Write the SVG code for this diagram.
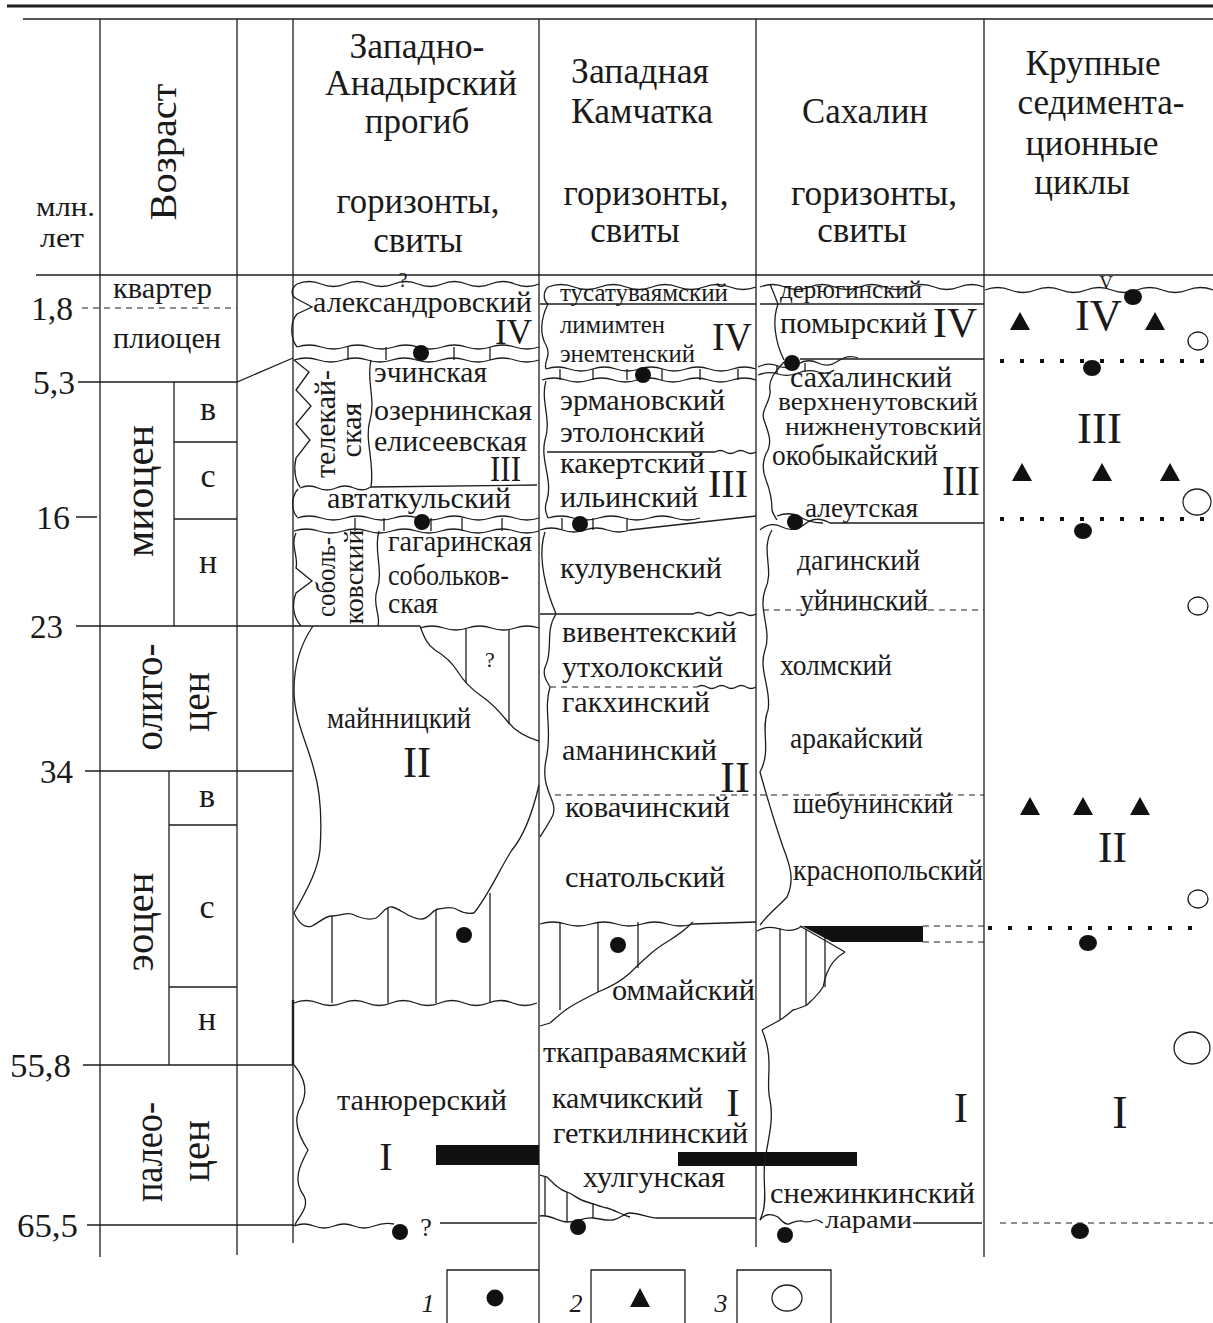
<svg xmlns="http://www.w3.org/2000/svg" width="1213" height="1323" viewBox="0 0 1213 1323">
<style>
.ln{fill:none;stroke:#1e1e1e;stroke-width:1.3}
.ds{fill:none;stroke:#1e1e1e;stroke-width:1.2;stroke-dasharray:6 5}
.dt{fill:none;stroke:#111;stroke-width:4;stroke-dasharray:4 16}
.t{font-family:"Liberation Serif","Times New Roman",serif;fill:#1a1a1a}
.c{text-anchor:middle}
.dot{fill:#111}
.ring{fill:none;stroke:#1e1e1e;stroke-width:1.3}
.s30{font-size:30px}
.s35{font-size:35px}
</style>
<rect width="1213" height="1323" fill="#fff"/>

<g id="grid" class="ln">
<line x1="7" y1="6" x2="1213" y2="6" stroke-width="3"/>
<line x1="23" y1="19" x2="1213" y2="19"/>
<line x1="36" y1="275" x2="1213" y2="275"/>
<line x1="100" y1="19" x2="100" y2="1257"/>
<line x1="237" y1="19" x2="237" y2="1255"/>
<line x1="293" y1="19" x2="293" y2="1243"/>
<line x1="539" y1="19" x2="539" y2="1323"/>
<line x1="756" y1="19" x2="756" y2="1247"/>
<line x1="984" y1="19" x2="984" y2="1257"/>
<line x1="293" y1="1000" x2="293" y2="1065" stroke-width="2.4"/>
</g>

<g id="header">
<text class="t" x="36" y="216" font-size="28" textLength="59" lengthAdjust="spacingAndGlyphs">млн.</text>
<text class="t" x="40" y="247" font-size="28" textLength="44" lengthAdjust="spacingAndGlyphs">лет</text>
<text class="t c" transform="translate(176,152) rotate(-90)" font-size="38" textLength="137" lengthAdjust="spacingAndGlyphs">Возраст</text>
<g class="t c s35">
<text x="417" y="58" textLength="135" lengthAdjust="spacingAndGlyphs">Западно-</text>
<text x="421" y="95" textLength="192" lengthAdjust="spacingAndGlyphs">Анадырский</text>
<text x="417" y="133">прогиб</text>
<text x="418" y="213" textLength="163" lengthAdjust="spacingAndGlyphs">горизонты,</text>
<text x="418" y="252">свиты</text>
<text x="640" y="83" textLength="138" lengthAdjust="spacingAndGlyphs">Западная</text>
<text x="642" y="123" textLength="142" lengthAdjust="spacingAndGlyphs">Камчатка</text>
<text x="646" y="205" textLength="165" lengthAdjust="spacingAndGlyphs">горизонты,</text>
<text x="635" y="242">свиты</text>
<text x="865" y="123" textLength="126" lengthAdjust="spacingAndGlyphs">Сахалин</text>
<text x="874" y="205" textLength="166" lengthAdjust="spacingAndGlyphs">горизонты,</text>
<text x="862" y="242">свиты</text>
<text x="1093" y="75" textLength="135" lengthAdjust="spacingAndGlyphs">Крупные</text>
<text x="1101" y="114" textLength="167" lengthAdjust="spacingAndGlyphs">седимента-</text>
<text x="1092" y="155" textLength="133" lengthAdjust="spacingAndGlyphs">ционные</text>
<text x="1082" y="194">циклы</text>
</g>
</g>

<g id="age-scale">
<line class="ds" x1="82" y1="308" x2="237" y2="308"/>
<path class="ln" d="M78,382 H237 L293,358 M174,382 V626 M174,442 H237 M174,519 H237 M76,517 H97 M76,626 H420 M85,771 H293 M169,771 V1065 M169,825 H237 M169,987 H237 M83,1065 H293 M87,1225 H294"/>
<g class="t" font-size="34">
<text x="31" y="320" textLength="42" lengthAdjust="spacingAndGlyphs">1,8</text>
<text x="33" y="394" textLength="42" lengthAdjust="spacingAndGlyphs">5,3</text>
<text x="36" y="529" textLength="34" lengthAdjust="spacingAndGlyphs">16</text>
<text x="30" y="638" textLength="33" lengthAdjust="spacingAndGlyphs">23</text>
<text x="40" y="783" textLength="33" lengthAdjust="spacingAndGlyphs">34</text>
<text x="10" y="1077" textLength="61" lengthAdjust="spacingAndGlyphs">55,8</text>
<text x="17" y="1237" textLength="61" lengthAdjust="spacingAndGlyphs">65,5</text>
</g>
<g class="t" font-size="29">
<text x="113" y="298" textLength="99" lengthAdjust="spacingAndGlyphs">квартер</text>
<text x="113" y="348" textLength="108" lengthAdjust="spacingAndGlyphs">плиоцен</text>
</g>
<g class="t c" font-size="34">
<text x="208" y="420">в</text>
<text x="208" y="487">с</text>
<text x="208" y="573">н</text>
<text x="207" y="807">в</text>
<text x="207" y="918">с</text>
<text x="207" y="1030">н</text>
</g>
<g class="t c" font-size="40">
<text transform="translate(153,491) rotate(-90)" font-size="42" textLength="132" lengthAdjust="spacingAndGlyphs">миоцен</text>
<text transform="translate(162,697) rotate(-90)" textLength="107" lengthAdjust="spacingAndGlyphs">олиго-</text>
<text transform="translate(209,702) rotate(-90)" textLength="60" lengthAdjust="spacingAndGlyphs">цен</text>
<text transform="translate(153,922) rotate(-90)" textLength="99" lengthAdjust="spacingAndGlyphs">эоцен</text>
<text transform="translate(162,1152) rotate(-90)" textLength="100" lengthAdjust="spacingAndGlyphs">палео-</text>
<text transform="translate(209,1151) rotate(-90)" textLength="62" lengthAdjust="spacingAndGlyphs">цен</text>
</g>
</g>

<g id="col-anadyr">
<g class="ln">
<path d="M297,284 q12.1,-5 24.2,0 t24.2,0 t24.2,0 t24.2,0 t24.2,0 t24.2,0 t24.2,0 t24.2,0 t24.2,0 t24.2,0"/>
<path d="M297,284 C290,289 291,296 297,299 L312,307 L297,314 C290,322 290,338 297,347"/>
<path d="M297,347 q12.1,-4 24.2,0 t24.2,0 t24.2,0 t24.2,0 t24.2,0 t24.2,0 t24.2,0 t24.2,0 t24.2,0 t24.2,0"/>
<path d="M294,360 q12.25,-4 24.5,0 t24.5,0 t24.5,0 t24.5,0 t24.5,0 t24.5,0 t24.5,0 t24.5,0 t24.5,0 t24.5,0"/>
<path d="M348,347 V360 M386,347 V360 M454,347 V360 M490,347 V360"/>
<path d="M294,360 L309,372 L296,390 L311,406 L296,424 L310,440 L296,458 C293,470 296,482 300,487"/>
<path d="M371,360 C366,380 376,400 370,420 C364,440 375,462 371,487"/>
<path d="M300,488 q9,-4 18,0 t18,0 t18,0 t17,-1 L537,485"/>
<path d="M298,489 C291,497 291,510 297,517"/>
<path d="M297,518 q12.1,-4 24.2,0 t24.2,0 t24.2,0 t24.2,0 t24.2,0 t24.2,0 t24.2,0 t24.2,0 t24.2,0 t24.2,0"/>
<path d="M294,531 q12.25,-4 24.5,0 t24.5,0 t24.5,0 t24.5,0 t24.5,0 t24.5,0 t24.5,0 t24.5,0 t24.5,0 t24.5,0"/>
<path d="M355,518 V531 M384,518 V531 M431,518 V531 M462,518 V531 M502,518 V531"/>
<path d="M296,533 C290,545 299,558 296,568 L312,581 L296,593 C291,606 294,618 301,626"/>
<path d="M379,531 C373,550 384,570 377,590 C372,605 381,615 378,626"/>
<path d="M420,628 q11.9,-4 23.8,0 t23.8,0 t23.8,0 t23.8,0 t23.8,0"/>
<path d="M420,626 C425,640 428,645 435,650 C445,656 452,662 458,672 C463,680 470,688 480,695 C492,703 500,712 508,722 C515,731 525,737 539,741"/>
<path d="M466,628 V683 M509,630 V724"/>
<path d="M313,626 C300,645 294,665 294,690 C294,720 308,745 314,770 C320,790 322,820 320,850 C318,868 310,885 294,913"/>
<path d="M539,785 C532,815 522,838 512,850 C500,868 490,893 474,913"/>
<path d="M294,913 C300,925 305,928 312,926 C320,922 325,916 332,916 C340,916 346,912 352,914 C360,918 368,921 376,918 C382,915 385,906 392,907 C400,908 410,920 422,919 C430,918 432,910 438,909 C445,908 452,906 458,910 C463,913 468,914 474,913"/>
<path d="M332,916 V1003 M388,908 V1003 M436,910 V1003 M490,893 V1003"/>
<path d="M294,1003 q12.15,-5 24.3,0 t24.3,0 t24.3,0 t24.3,0 t24.3,0 t24.3,0 t24.3,0 t24.3,0 t24.3,0 t24.3,0"/>
<path d="M294,1065 C305,1078 309,1092 300,1108 C292,1122 300,1138 308,1150 C300,1165 292,1180 304,1196 C310,1208 297,1218 295,1225"/>
<path d="M294,1226 q10,-4 20,0 t20,0 t20,0 t20,0 t20,-2"/>
<path d="M440,1223 H537"/>
</g>
<rect x="436" y="1145" width="103" height="20" fill="#111"/>
<circle class="dot" cx="421" cy="353" r="8"/>
<circle class="dot" cx="422" cy="522" r="8"/>
<circle class="dot" cx="464" cy="935" r="8"/>
<circle class="dot" cx="400" cy="1232" r="8"/>
<g class="t s30">
<text class="c" x="403" y="287" font-size="20">?</text>
<text x="313" y="312" textLength="219" lengthAdjust="spacingAndGlyphs">александровский</text>
<text x="495" y="344" font-size="36" textLength="37" lengthAdjust="spacingAndGlyphs">IV</text>
<text transform="translate(335,424) rotate(-90)" class="c" textLength="108" lengthAdjust="spacingAndGlyphs">телекай-</text>
<text transform="translate(361,430) rotate(-90)" class="c" textLength="55" lengthAdjust="spacingAndGlyphs">ская</text>
<text x="374" y="382" textLength="113" lengthAdjust="spacingAndGlyphs">эчинская</text>
<text x="374" y="420" textLength="158" lengthAdjust="spacingAndGlyphs">озернинская</text>
<text x="374" y="451" textLength="153" lengthAdjust="spacingAndGlyphs">елисеевская</text>
<text x="490" y="481" font-size="36" textLength="31" lengthAdjust="spacingAndGlyphs">III</text>
<text x="327" y="508" textLength="184" lengthAdjust="spacingAndGlyphs">автаткульский</text>
<text transform="translate(335,577) rotate(-90)" class="c" font-size="27" textLength="80" lengthAdjust="spacingAndGlyphs">соболь-</text>
<text transform="translate(363,577) rotate(-90)" class="c" font-size="27" textLength="95" lengthAdjust="spacingAndGlyphs">ковский</text>
<text x="388" y="551" textLength="144" lengthAdjust="spacingAndGlyphs">гагаринская</text>
<text x="388" y="585" textLength="121" lengthAdjust="spacingAndGlyphs">собольков-</text>
<text x="388" y="613" textLength="50" lengthAdjust="spacingAndGlyphs">ская</text>
<text class="c" x="490" y="667" font-size="22">?</text>
<text x="327" y="728" textLength="144" lengthAdjust="spacingAndGlyphs">майнницкий</text>
<text x="403" y="777" font-size="44" textLength="28" lengthAdjust="spacingAndGlyphs">II</text>
<text x="337" y="1110" textLength="170" lengthAdjust="spacingAndGlyphs">танюрерский</text>
<text class="c" x="386" y="1170" font-size="40">I</text>
<text class="c" x="426" y="1236" font-size="26">?</text>
</g>
</g>

<g id="col-kamchatka">
<g class="ln">
<path d="M548,287 q13,-5 26,0 t26,0 t26,0 t26,0 t26,0 t26,0 t26,0 t26,0"/>
<path d="M548,287 C543,292 543,300 548,304"/>
<path d="M540,304 H756"/>
<path d="M548,304 C540,320 540,335 546,345 C552,356 543,362 546,369"/>
<path d="M546,369 q11.67,-4 23.33,0 t23.33,0 t23.33,0 t23.33,0 t23.33,0 t23.33,0 t23.33,0 t23.33,0 t23.33,0"/>
<path d="M542,380 q11.9,-4 23.8,0 t23.8,0 t23.8,0 t23.8,0 t23.8,0 t23.8,0 t23.8,0 t23.8,0 t23.8,0"/>
<path d="M560,369 V380 M593,369 V380 M627,369 V380 M662,369 V380 M700,369 V380 M738,369 V380"/>
<path d="M546,381 C540,400 552,420 545,440 C540,460 553,480 547,500 C543,510 547,515 548,518"/>
<path d="M547,452 H715 q5.125,-3 10.25,0 t10.25,0 t10.25,0 t10.25,0"/>
<path d="M548,518 q12.67,-4 25.33,0 t25.33,0 t25.33,0 t25.33,0 t25.33,0 t25.33,0"/>
<path d="M540,530 q11.25,-4 22.5,0 t22.5,0 t22.5,0 t22.5,0 L756,516"/>
<path d="M562,518 V530 M593,518 V530 M627,518 V530"/>
<path d="M545,532 C538,552 544,580 550,598 C553,607 555,611 556,614"/>
<path d="M540,614 H693 q5.25,-3 10.5,0 t10.5,0 t10.5,0 t10.5,0 t10.5,0 t10.5,0"/>
<path d="M556,614 C545,630 553,650 546,665 C541,675 548,683 550,687"/>
<path d="M697,687 q4.92,-3 9.83,0 t9.83,0 t9.83,0 t9.83,0 t9.83,0 t9.83,0"/>
<path d="M550,687 C543,710 553,730 546,760 C540,790 558,800 553,815 C548,825 543,832 540,837"/>
<path d="M540,924 q12.75,-4 25.5,0 t25.5,0 t25.5,0 t25.5,0 t25.5,0 t25.5,0 L756,922"/>
<path d="M693,922 C685,930 678,935 670,940 C660,946 652,952 647,957 C640,963 635,968 630,973 C620,982 608,988 598,992 C588,997 578,1002 570,1007 C562,1012 556,1018 550,1023 L540,1026"/>
<path d="M560,923 V1010 M598,922 V992 M638,922 V968"/>
<path d="M540,1175 L547,1177 C555,1185 560,1190 567,1192 C575,1195 578,1200 587,1202 C595,1204 600,1207 607,1208 C615,1210 622,1215 630,1217"/>
<path d="M540,1216 C550,1214 558,1222 567,1222 C578,1222 583,1217 593,1218 C602,1219 606,1221 613,1220 C620,1219 624,1213 630,1213 C640,1213 648,1218 657,1218 L756,1218"/>
<path d="M545,1177 V1216 M567,1192 V1222 M593,1203 V1218"/>
</g>
<path class="ds" d="M550,687 H697 M555,795 H756 M760,795 H984"/>
<rect x="678" y="1152" width="179" height="14" fill="#111"/>
<circle class="dot" cx="643" cy="375" r="8"/>
<circle class="dot" cx="580" cy="524" r="8"/>
<circle class="dot" cx="618" cy="945" r="8"/>
<circle class="dot" cx="578" cy="1227" r="8"/>
<g class="t s30">
<text x="560" y="301" font-size="25" textLength="168" lengthAdjust="spacingAndGlyphs">тусатуваямский</text>
<text x="560" y="333" font-size="25" textLength="105" lengthAdjust="spacingAndGlyphs">лимимтен</text>
<text x="560" y="362" font-size="25" textLength="135" lengthAdjust="spacingAndGlyphs">энемтенский</text>
<text x="712" y="350" font-size="41" textLength="40" lengthAdjust="spacingAndGlyphs">IV</text>
<text x="560" y="410" textLength="165" lengthAdjust="spacingAndGlyphs">эрмановский</text>
<text x="560" y="442" textLength="145" lengthAdjust="spacingAndGlyphs">этолонский</text>
<text x="560" y="473" textLength="145" lengthAdjust="spacingAndGlyphs">какертский</text>
<text x="708" y="497" font-size="41" textLength="40" lengthAdjust="spacingAndGlyphs">III</text>
<text x="560" y="507" textLength="138" lengthAdjust="spacingAndGlyphs">ильинский</text>
<text x="560" y="578" textLength="162" lengthAdjust="spacingAndGlyphs">кулувенский</text>
<text x="562" y="642" textLength="175" lengthAdjust="spacingAndGlyphs">вивентекский</text>
<text x="562" y="677" textLength="161" lengthAdjust="spacingAndGlyphs">утхолокский</text>
<text x="562" y="712" textLength="148" lengthAdjust="spacingAndGlyphs">гакхинский</text>
<text x="562" y="760" textLength="155" lengthAdjust="spacingAndGlyphs">аманинский</text>
<text x="720" y="792" font-size="44" textLength="30" lengthAdjust="spacingAndGlyphs">II</text>
<text x="565" y="817" textLength="165" lengthAdjust="spacingAndGlyphs">ковачинский</text>
<text x="565" y="887" textLength="160" lengthAdjust="spacingAndGlyphs">снатольский</text>
<text x="612" y="1000" textLength="143" lengthAdjust="spacingAndGlyphs">оммайский</text>
<text x="543" y="1062" textLength="204" lengthAdjust="spacingAndGlyphs">ткаправаямский</text>
<text x="552" y="1108" textLength="151" lengthAdjust="spacingAndGlyphs">камчикский</text>
<text class="c" x="733" y="1116" font-size="40">I</text>
<text x="553" y="1143" textLength="195" lengthAdjust="spacingAndGlyphs">геткилнинский</text>
<text x="583" y="1187" textLength="142" lengthAdjust="spacingAndGlyphs">хулгунская</text>
</g>
</g>

<g id="col-sakhalin">
<g class="ln">
<path d="M760,287 q12.44,-5 24.89,0 t24.89,0 t24.89,0 t24.89,0 t24.89,0 t24.89,0 t24.89,0 t24.89,0 t24.89,0"/>
<path d="M770,284 L778,304 C772,320 775,342 784,360"/>
<path d="M760,304 H984 M800,359 H984"/>
<path d="M758,367 q10,-5 20,-1 t20,-2 t20,-1 t20,-2 t20,-3"/>
<path d="M758,375 q10,-4 20,-1 t20,-1 t20,-1 t16,-2"/>
<path d="M777,365 V374 M805,363 V372"/>
<path d="M784,362 C775,372 768,380 770,390 C772,400 760,410 764,420 C768,432 772,440 768,450 C762,460 762,470 766,480 C770,490 772,500 772,510 C773,515 776,518 777,520"/>
<path d="M777,516 Q790,511 800,517 T823,523"/>
<path d="M760,530 Q770,521 782,527 T805,524 T830,523 L984,523"/>
<path d="M772,530 C760,550 775,570 765,590 C758,610 772,630 765,650 C758,670 772,690 768,710 C760,730 772,750 760,772 C765,790 772,815 783,847 C790,865 795,880 787,897 C780,905 770,912 760,925"/>
<path d="M757,931 Q768,925 780,929 T802,926"/>
<path d="M800,926 L845,952"/>
<path d="M845,952 C835,958 830,965 827,973 C824,980 824,985 823,987 C818,995 812,1000 807,1005 C800,1008 797,1009 793,1010 C788,1014 785,1017 780,1020 C775,1023 770,1025 762,1030"/>
<path d="M780,928 V1020 M806,929 V1005 M825,936 V987"/>
<path d="M762,1030 C775,1060 765,1080 770,1100 C774,1120 768,1140 765,1160 C762,1180 768,1200 762,1215 L760,1220"/>
<path d="M760,1220 C765,1214 770,1213 778,1217 C782,1221 785,1225 789,1224 C794,1222 797,1220 802,1221 C806,1223 810,1222 815,1220 C818,1219 820,1222 823,1223"/>
<path d="M913,1223 H982"/>
</g>
<path class="ds" d="M763,610 H984 M923,926 H984 M923,942 H984"/>
<polygon points="802,926 923,926 923,942 832,942" fill="#111"/>
<circle class="dot" cx="792" cy="363" r="8"/>
<circle class="dot" cx="795" cy="522" r="8"/>
<circle class="dot" cx="785" cy="1235" r="8"/>
<g class="t s30">
<text x="780" y="298" font-size="26" textLength="142" lengthAdjust="spacingAndGlyphs">дерюгинский</text>
<text x="780" y="333" textLength="147" lengthAdjust="spacingAndGlyphs">помырский</text>
<text x="933" y="337" font-size="42" textLength="44" lengthAdjust="spacingAndGlyphs">IV</text>
<text x="790" y="387" textLength="162" lengthAdjust="spacingAndGlyphs">сахалинский</text>
<text x="778" y="410" font-size="26" textLength="200" lengthAdjust="spacingAndGlyphs">верхненутовский</text>
<text x="785" y="435" font-size="26" textLength="197" lengthAdjust="spacingAndGlyphs">нижненутовский</text>
<text x="772" y="465" font-size="29" textLength="166" lengthAdjust="spacingAndGlyphs">окобыкайский</text>
<text x="942" y="495" font-size="42" textLength="38" lengthAdjust="spacingAndGlyphs">III</text>
<text x="805" y="517" font-size="28" textLength="113" lengthAdjust="spacingAndGlyphs">алеутская</text>
<text x="797" y="570" textLength="123" lengthAdjust="spacingAndGlyphs">дагинский</text>
<text x="800" y="610" textLength="128" lengthAdjust="spacingAndGlyphs">уйнинский</text>
<text x="780" y="675" textLength="112" lengthAdjust="spacingAndGlyphs">холмский</text>
<text x="790" y="748" textLength="133" lengthAdjust="spacingAndGlyphs">аракайский</text>
<text x="793" y="813" textLength="160" lengthAdjust="spacingAndGlyphs">шебунинский</text>
<text x="793" y="880" textLength="190" lengthAdjust="spacingAndGlyphs">краснопольский</text>
<text class="c" x="961" y="1122" font-size="42">I</text>
<text x="770" y="1203" textLength="205" lengthAdjust="spacingAndGlyphs">снежинкинский</text>
<text x="825" y="1228" font-size="26" textLength="87" lengthAdjust="spacingAndGlyphs">ларами</text>
</g>
</g>

<g id="col-cycles">
<path class="ln" d="M985,290 q12.67,-5 25.33,0 t25.33,0 t25.33,0 t25.33,0 t25.33,0 t25.33,0 t25.33,0 t25.33,0 t25.33,0"/>
<path class="dt" d="M1000,361 H1210 M1000,519 H1210 M988,928 H1200"/>
<path class="ds" d="M1000,1223 H1213"/>
<g fill="#111">
<path d="M1020,312 L1030,330 L1010,330 Z M1155,312 L1165,330 L1145,330 Z"/>
<path d="M1022,463 L1032,481 L1012,481 Z M1102,463 L1112,481 L1092,481 Z M1170,463 L1180,481 L1160,481 Z"/>
<path d="M1030,797 L1040,815 L1020,815 Z M1083,797 L1093,815 L1073,815 Z M1140,797 L1150,815 L1130,815 Z"/>
<ellipse cx="1133" cy="297" rx="9" ry="8"/>
<ellipse cx="1092" cy="368" rx="9" ry="8"/>
<ellipse cx="1083" cy="531" rx="9" ry="8"/>
<ellipse cx="1088" cy="943" rx="9" ry="8"/>
<ellipse cx="1080" cy="1231" rx="9" ry="8"/>
</g>
<ellipse class="ring" cx="1198" cy="341" rx="10" ry="9"/>
<ellipse class="ring" cx="1197" cy="502" rx="14" ry="13"/>
<ellipse class="ring" cx="1198" cy="606" rx="10" ry="9"/>
<ellipse class="ring" cx="1198" cy="899" rx="10" ry="9"/>
<ellipse class="ring" cx="1192" cy="1048" rx="18" ry="16"/>
<g class="t">
<text class="c" x="1106" y="289" font-size="19">V</text>
<text x="1075" y="330" font-size="45" textLength="47" lengthAdjust="spacingAndGlyphs">IV</text>
<text x="1077" y="443" font-size="45" textLength="45" lengthAdjust="spacingAndGlyphs">III</text>
<text x="1098" y="862" font-size="45" textLength="29" lengthAdjust="spacingAndGlyphs">II</text>
<text class="c" x="1120" y="1128" font-size="46">I</text>
</g>
</g>

<g id="legend">
<path class="ln" d="M447,1323 V1270 H539 M591,1323 V1270 H685 V1323 M737,1323 V1270 H831 V1323"/>
<circle class="dot" cx="495" cy="1298" r="8.5"/>
<path d="M640,1288 L650,1307 L630,1307 Z" fill="#111"/>
<ellipse class="ring" cx="787" cy="1298" rx="15" ry="13"/>
<g class="t c" font-size="26" font-style="italic">
<text x="428" y="1312">1</text>
<text x="576" y="1312">2</text>
<text x="721" y="1312">3</text>
</g>
</g>
</svg>
